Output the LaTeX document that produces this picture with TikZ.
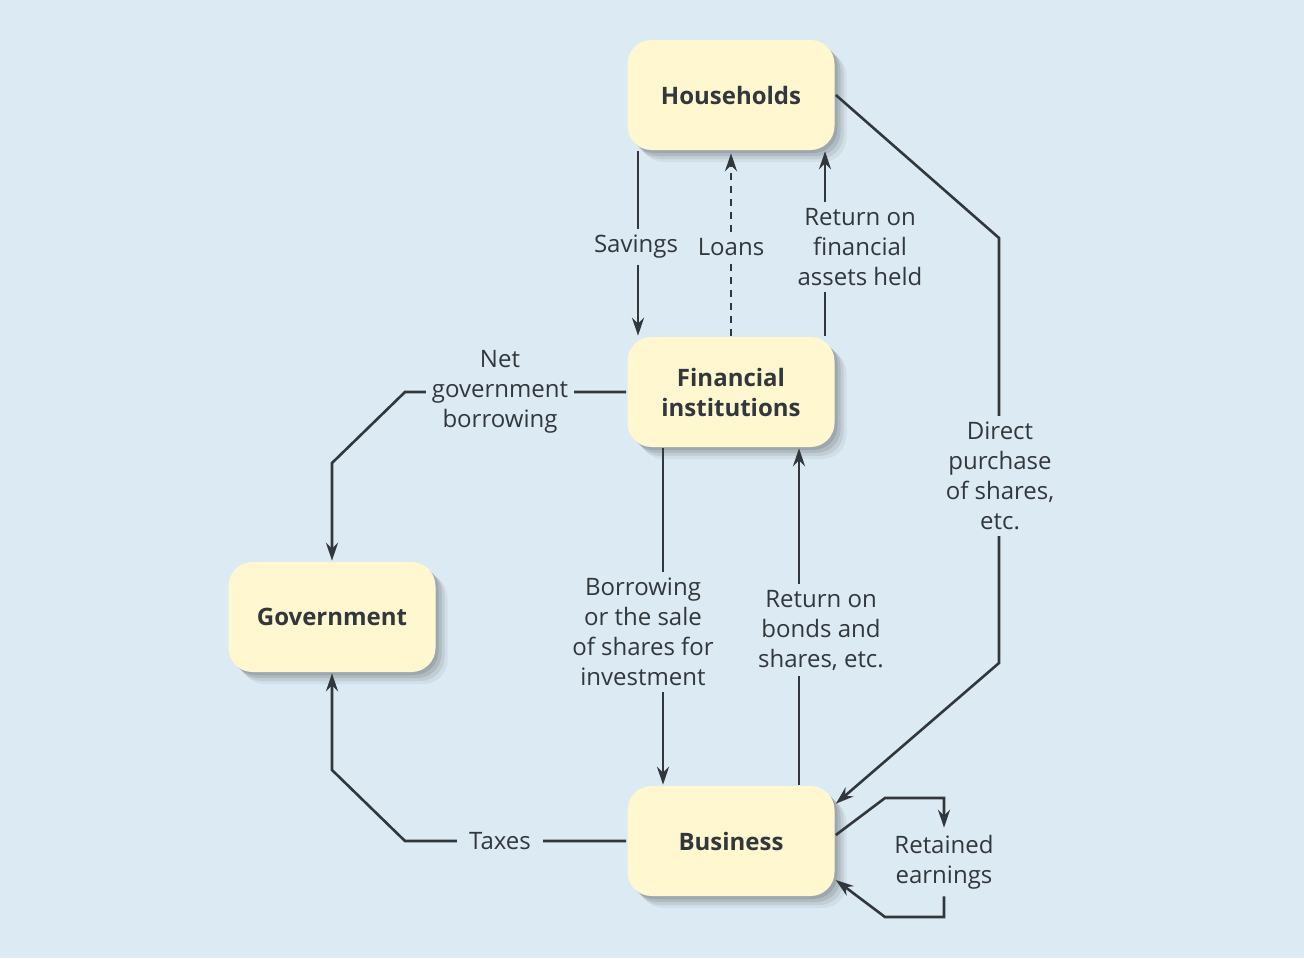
\documentclass[tikz,border=0pt]{standalone}
\usepackage{fontspec}
\setmainfont{Open Sans}
\usetikzlibrary{arrows.meta,shadows,calc}
\definecolor{bgblue}{RGB}{220,234,243}
\definecolor{boxfill}{RGB}{255,247,208}
\definecolor{ink}{RGB}{50,55,60}
\tikzset{
  sector/.style={draw=none,fill=boxfill,rounded corners=12pt,minimum width=103.5pt,
    minimum height=55pt,align=center,font=\bfseries\fontsize{12}{15}\selectfont,text=ink,
    drop shadow={shadow xshift=6pt,shadow yshift=-6pt,opacity=.05,fill=black},
    drop shadow={shadow xshift=4.5pt,shadow yshift=-4.5pt,opacity=.07,fill=black},
    drop shadow={shadow xshift=3pt,shadow yshift=-3pt,opacity=.09,fill=black},
    drop shadow={shadow xshift=1.5pt,shadow yshift=-1.5pt,opacity=.1,fill=black}},
  flowlbl/.style={fill=bgblue,inner sep=3pt,align=center,text=ink,
    font=\fontsize{12}{15}\selectfont},
}
\begin{document}
\begin{tikzpicture}[x=0.5pt,y=-0.5pt,line width=1.3pt,line cap=butt,line join=miter,
  >={Stealth[length=9pt,width=6pt]},draw=ink]
\useasboundingbox[fill=bgblue] (0,0) rectangle (1304,958);
\node[sector] (hh) at (731,95) {Households};
\node[sector] (fi) at (731,392) {Financial\\institutions};
\node[sector] (gov) at (332,617) {Government};
\node[sector] (bus) at (731,841) {Business};
% flows between households and financial institutions
\draw[->] ([xshift=-46.5pt]hh.south) -- ([xshift=-46.5pt]fi.north);
\draw[->,dash pattern=on 3.5pt off 3pt] (fi.north) -- ([yshift=-1pt]hh.south);
\draw[->] ([xshift=47pt]fi.north) -- ([xshift=47pt]hh.south);
% government
\draw[->] (fi.west) -- (405,392) -- (332,463) -- (gov.north);
\draw[->] (bus.west) -- (405,841) -- (332,770) -- (gov.south);
% business
\draw[->] ([xshift=-34pt]fi.south) -- ([xshift=-34pt]bus.north);
\draw[->] ([xshift=34pt]bus.north) -- ([xshift=34pt]fi.south);
\draw[->] (hh.east) -- (999,238) -- (999,663) -- ([yshift=-9.5pt]bus.north east);
\node[flowlbl] (ret) at (944,862) {Retained\\earnings};
\draw[->] ([yshift=3pt]bus.east) -- (885,798) -- (944,798) -- (ret.north);
\draw[->] (ret.south) -- (944,917) -- (885,917) -- ([yshift=-19.5pt]bus.east);
% labels
\node[flowlbl] (sav) at (636,247) {Savings};
\node[flowlbl] (loan) at (731,247) {Loans};
\node[flowlbl] (rfa) at (860,247) {Return on\\financial\\assets held};
\node[flowlbl] (ngb) at (500,392) {Net\\government\\borrowing};
\node[flowlbl] (bor) at (643,632) {Borrowing\\or the sale\\of shares for\\investment};
\node[flowlbl] (rbs) at (821,630) {Return on\\bonds and\\shares, etc.};
\node[flowlbl] (dps) at (1000,476) {Direct\\purchase\\of shares,\\etc.};
\node[flowlbl,inner xsep=6pt] (tax) at (500,841) {Taxes};
\end{tikzpicture}
\end{document}
